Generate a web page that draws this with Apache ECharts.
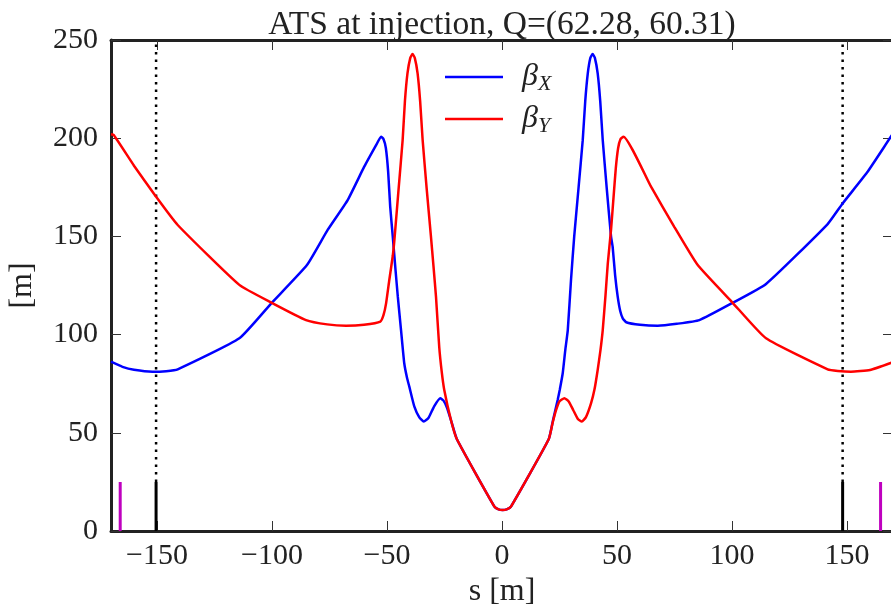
<!DOCTYPE html>
<html>
<head>
<meta charset="utf-8">
<script src="https://cdn.jsdelivr.net/npm/echarts@6/dist/echarts.min.js"></script>
<style>
    html, body { margin: 0; padding: 0; background: #fff; }
    #main { width: 891px; height: 604px; }
</style>
</head>
<body>
<div id="main"></div>
<script>
var titleText = 'ATS at injection, Q=(62.28, 60.31)';
var xTicks = [-150, -100, -50, 0, 50, 100, 150];
var yTicks = [0, 50, 100, 150, 200, 250];

// beta_x [s, m]
var betaX = [
    [-170, 86.2], [-165, 83.6], [-160, 82.1], [-152, 81.1], [-146, 81.4], [-141, 82.3],
    [-114.2, 98.1], [-100.1, 116.2], [-84.8, 135.4], [-75.8, 153.3], [-67.1, 168.5],
    [-59.9, 185.5], [-54.5, 197], [-52.6, 200.8], [-51.5, 199.5], [-50.5, 195],
    [-49.5, 183], [-48.6, 165], [-47.5, 150], [-46.3, 133], [-45.3, 119.3],
    [-43.9, 102.3], [-42.5, 85.4], [-41.3, 78], [-40.3, 73.5], [-38.1, 63.3], [-36, 58],
    [-34, 55.7], [-32, 57.5], [-29.5, 63.5], [-26.8, 67.6], [-25.5, 66.5],
    [-24, 63], [-22.2, 56.5], [-19.6, 46.7], [-3.3, 12.4], [-1.5, 11], [0.3, 10.7],
    [2, 11], [3.9, 12.4], [20.3, 46.7], [22.2, 56.5], [24.2, 66.7], [25.1, 71.8],
    [26.4, 80.3], [27.5, 92], [28.6, 102.3], [30, 127.8], [31.4, 150], [33.3, 175],
    [35.1, 199], [36.2, 219], [37.3, 233], [38.4, 240.8], [39.4, 242.9], [40.4, 240.8],
    [41.6, 233], [42.7, 219], [43.8, 199], [45.5, 175], [47.4, 150], [48.1, 144.8],
    [49.2, 130], [50.3, 119.3], [51.4, 112], [52.5, 108.3], [54, 106.3], [60, 105],
    [67.7, 104.5], [76, 105.5], [85.8, 107.4], [100.3, 116.2], [114.8, 125.8],
    [141.6, 156.3], [148.1, 166.8], [158.7, 182.5], [169.5, 201.5], [170, 202]
];

// beta_y [s, m]
var betaY = [
    [-170, 202], [-168.8, 201.6], [-160, 186], [-150.4, 170.2], [-141, 155.8],
    [-114.2, 125.3], [-100.1, 116.2], [-85.2, 107.4], [-76, 105.2], [-67.8, 104.5],
    [-60, 105], [-52.9, 106.6], [-51.5, 110], [-50.4, 115.9], [-49, 127.8],
    [-47.5, 140], [-46.8, 148], [-44.9, 175], [-43.2, 199], [-42.2, 219], [-41.1, 233],
    [-39.9, 240.8], [-38.9, 242.9], [-37.9, 240.8], [-36.7, 233], [-35.6, 219],
    [-34.5, 199], [-32.8, 175], [-30.9, 150], [-29.8, 135], [-28.7, 119.3],
    [-27.3, 93.8], [-26.2, 81], [-25.1, 71.8], [-22.2, 56.5], [-19.6, 46.7],
    [-3.3, 12.4], [-1.5, 11], [0.3, 10.7], [2, 11], [3.9, 12.4], [20.3, 46.7],
    [22, 55], [23.5, 61.5], [25, 66], [27.1, 67.6], [29, 66], [31, 61.5], [33, 57],
    [34.7, 55.7], [36.5, 58], [38.7, 65], [40.2, 72], [41.6, 82], [42.8, 92],
    [43.8, 102.3], [45, 120], [46, 136.3], [47.4, 153.3], [48.5, 170], [49.5, 185],
    [50.5, 195], [51.5, 199.5], [52.8, 200.8], [64.8, 175.3], [74.9, 154.9],
    [85.1, 135.4], [100.3, 116.2], [114.8, 98.1], [141.6, 82.3], [146, 81.5],
    [151.7, 81.1], [160, 82], [170, 86]
];

// element markers along s
var blackMarks = [-150.4, 148.1];
var magentaMarks = [-166, 164.6];
var markHeight = 25;
var yTop = 250;

var serif = 'Liberation Serif';

function minus(v) {
    return String(v).replace('-', '\u2212');
}

var series = [
    {
        name: 'bx', type: 'line', data: betaX, symbol: 'none', smooth: 0.15,
        lineStyle: { color: '#0000ff', width: 2.5 }, itemStyle: { color: '#0000ff' }, z: 5
    },
    {
        name: 'by', type: 'line', data: betaY, symbol: 'none', smooth: 0.15,
        lineStyle: { color: '#ff0000', width: 2.5 }, itemStyle: { color: '#ff0000' }, z: 6
    }
];

for (var i = 0; i < blackMarks.length; i++) {
    series.push({
        type: 'line', symbol: 'none', silent: true,
        data: [[blackMarks[i], 0], [blackMarks[i], markHeight]],
        lineStyle: { color: '#000', width: 3 }, z: 3
    });
    series.push({
        type: 'line', symbol: 'none', silent: true,
        data: [[blackMarks[i], markHeight], [blackMarks[i], yTop]],
        lineStyle: { color: '#000', width: 2.5, type: [2.5, 5] }, z: 3
    });
}
for (var j = 0; j < magentaMarks.length; j++) {
    series.push({
        type: 'line', symbol: 'none', silent: true,
        data: [[magentaMarks[j], 0], [magentaMarks[j], markHeight]],
        lineStyle: { color: '#bf00bf', width: 3 }, z: 3
    });
}

var spine = { show: true, onZero: false, lineStyle: { color: '#222', width: 3 } };
function ticks(vals) {
    return { show: true, inside: true, length: 10, customValues: vals, lineStyle: { color: '#333', width: 1 } };
}

var chart = echarts.init(document.getElementById('main'), null, { renderer: 'canvas' });
chart.setOption({
    animation: false,
    backgroundColor: '#fff',
    title: {
        text: titleText,
        left: 497, top: 3, textAlign: 'center',
        textStyle: { fontFamily: serif, fontWeight: 'normal', fontSize: 33.5, color: '#222' }
    },
    legend: {
        data: ['bx', 'by'],
        orient: 'vertical',
        left: 440, top: 56,
        icon: 'rect',
        itemWidth: 58, itemHeight: 2.5, itemGap: 8,
        formatter: function (name) {
            return name == 'bx' ? '{b|\u03b2}{s|X}' : '{b|\u03b2}{s|Y}';
        },
        textStyle: {
            rich: {
                b: { fontFamily: serif, fontStyle: 'italic', fontSize: 32, color: '#222', padding: [0, 0, 0, 14] },
                s: { fontFamily: serif, fontStyle: 'italic', fontSize: 22, color: '#222', padding: [14, 0, 0, 0] }
            }
        }
    },
    grid: { left: 111, right: -2, top: 40, bottom: 73, containLabel: false, outerBoundsMode: 'none' },
    xAxis: [
        {
            type: 'value', min: -170, max: 170, position: 'bottom',
            name: 's [m]', nameLocation: 'middle', nameGap: 31,
            nameTextStyle: { fontFamily: serif, fontSize: 32, color: '#222' },
            axisLine: spine, axisTick: ticks(xTicks), splitLine: { show: false },
            axisLabel: {
                fontFamily: serif, fontSize: 30, color: '#222', margin: 10,
                customValues: xTicks,
                formatter: function (v) { return minus(v); }
            }
        },
        {
            type: 'value', min: -170, max: 170, position: 'top',
            axisLine: spine, axisTick: ticks(xTicks), splitLine: { show: false },
            axisLabel: { show: false }
        }
    ],
    yAxis: [
        {
            type: 'value', min: 0, max: 250, interval: 50, position: 'left',
            name: '[m]', nameLocation: 'middle', nameGap: 72, nameRotate: 90,
            nameTextStyle: { fontFamily: serif, fontSize: 32, color: '#222' },
            axisLine: spine, axisTick: ticks(yTicks), splitLine: { show: false },
            axisLabel: {
                fontFamily: serif, fontSize: 30, color: '#222', margin: 13,
                customValues: yTicks,
                formatter: function (v) { return String(v); }
            }
        },
        {
            type: 'value', min: 0, max: 250, interval: 50, position: 'right',
            axisLine: spine, axisTick: ticks(yTicks), splitLine: { show: false },
            axisLabel: { show: false }
        }
    ],
    series: series
});
</script>
</body>
</html>
